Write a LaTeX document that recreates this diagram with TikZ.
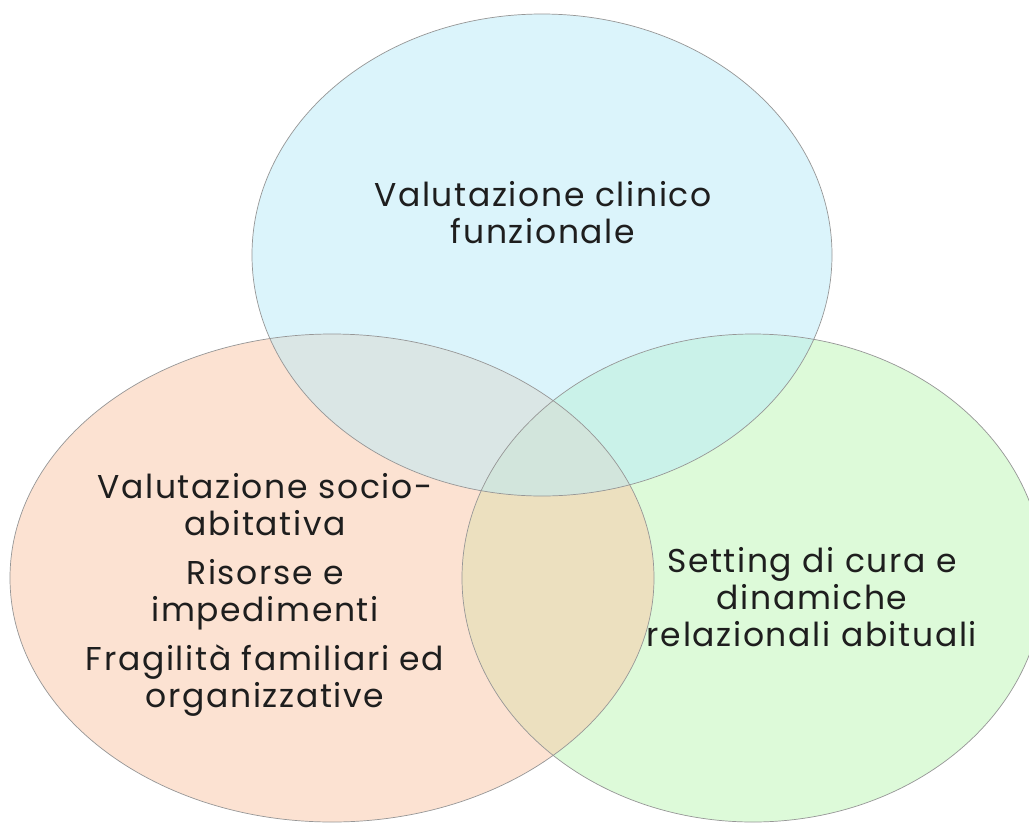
\documentclass[tikz,border=0pt]{standalone}
\usepackage{fontspec}
\setmainfont{Poppins}[LetterSpace=5]
\usetikzlibrary{positioning}

\definecolor{cblu}{RGB}{185,235,249}
\definecolor{cpes}{RGB}{251,199,167}
\definecolor{cver}{RGB}{189,247,181}
\definecolor{cbordo}{RGB}{150,150,150}
\definecolor{ctesto}{RGB}{30,30,30}

\tikzset{
  cerchio/.style={fill opacity=0.5},
  bordo/.style={draw=cbordo, line width=0.7pt},
  testo/.style={text=ctesto, align=center, font=\fontsize{33}{37}\selectfont, inner sep=0pt}
}

\begin{document}
\begin{tikzpicture}[x=1pt, y=-1pt]
\clip (0,0) rectangle (1029,823); % bordo della figura
\fill[white] (0,0) rectangle (1029,823);
\fill[cver, cerchio] (753,578) ellipse [x radius=291, y radius=244]; % destra
\fill[cpes, cerchio] (332,578) ellipse [x radius=322, y radius=244]; % sinistra
\fill[cblu, cerchio] (542,255) ellipse [x radius=290, y radius=241]; % alto
\draw[bordo] (753,578) ellipse [x radius=291, y radius=244];
\draw[bordo] (332,578) ellipse [x radius=322, y radius=244];
\draw[bordo] (542,255) ellipse [x radius=290, y radius=241];
\node[testo] (clinica) at (543,213) {Valutazione clinico\\funzionale};
\node[testo] (sociale) at (265,595) {Valutazione socio-\\abitativa\\[12pt]Risorse e\\impedimenti\\[12pt]Fragilità familiari ed\\organizzative};
\node[testo] (setting) at (812,597) {Setting di cura e\\dinamiche\\relazionali abituali};
\end{tikzpicture}
\end{document}
